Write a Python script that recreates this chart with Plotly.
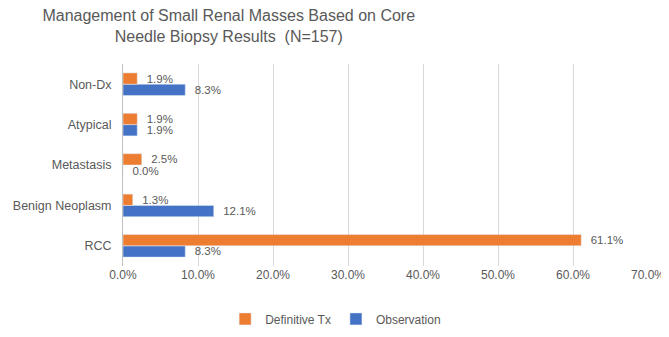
import plotly.graph_objects as go

categories = ["RCC", "Benign Neoplasm", "Metastasis", "Atypical", "Non-Dx"]
definitive_tx = [0.611, 0.013, 0.025, 0.019, 0.019]
observation = [0.083, 0.121, 0.000, 0.019, 0.083]
x_ticks = [0, 0.1, 0.2, 0.3, 0.4, 0.5, 0.6, 0.7]

FONT = "Liberation Sans, Arial, sans-serif"
GRAY = "#595959"

fig = go.Figure()
fig.add_trace(go.Bar(
    y=categories, x=observation, name="Observation", orientation="h",
    marker=dict(color="#4472C4"), texttemplate="  %{x:.1%}", textposition="outside",
    textfont=dict(color=GRAY, size=11.5, family=FONT), cliponaxis=False,
    constraintext="none",
))
fig.add_trace(go.Bar(
    y=categories, x=definitive_tx, name="Definitive Tx", orientation="h",
    marker=dict(color="#ED7D31"), texttemplate="  %{x:.1%}", textposition="outside",
    textfont=dict(color=GRAY, size=11.5, family=FONT), cliponaxis=False,
    constraintext="none",
))

fig.update_layout(
    width=669, height=337,
    margin=dict(l=115, r=29, t=56, b=57),
    paper_bgcolor="white", plot_bgcolor="white",
    barmode="group", bargap=0.44, bargroupgap=0,
    title=dict(
        text="Management of Small Renal Masses Based on Core<br>Needle Biopsy Results  (N=157)",
        x=0.33, xanchor="center", xref="container",
        y=0.96, yanchor="middle", yref="container",
        font=dict(family=FONT, size=16, color=GRAY),
    ),
    font=dict(family=FONT, color=GRAY, size=12),
    legend=dict(
        orientation="h", x=0.405, xanchor="center",
        y=-0.19, yanchor="top",
        traceorder="reversed", font=dict(size=12, color=GRAY, family=FONT),
        itemwidth=30,
    ),
    xaxis=dict(
        range=[0, 0.7], tickvals=x_ticks, tickformat=".1%",
        showgrid=True, gridcolor="#D9D9D9", gridwidth=1,
        zeroline=False, showline=False, ticks="", automargin=False,
        tickfont=dict(size=12, color=GRAY, family=FONT),
    ),
    yaxis=dict(
        categoryorder="array", categoryarray=categories,
        showline=True, linecolor="#BFBFBF", linewidth=1, ticks="",
        showgrid=False, tickfont=dict(size=12.5, color=GRAY, family=FONT),
        ticklabelstandoff=8, automargin=False,
    ),
)

fig.write_html("out.html")
